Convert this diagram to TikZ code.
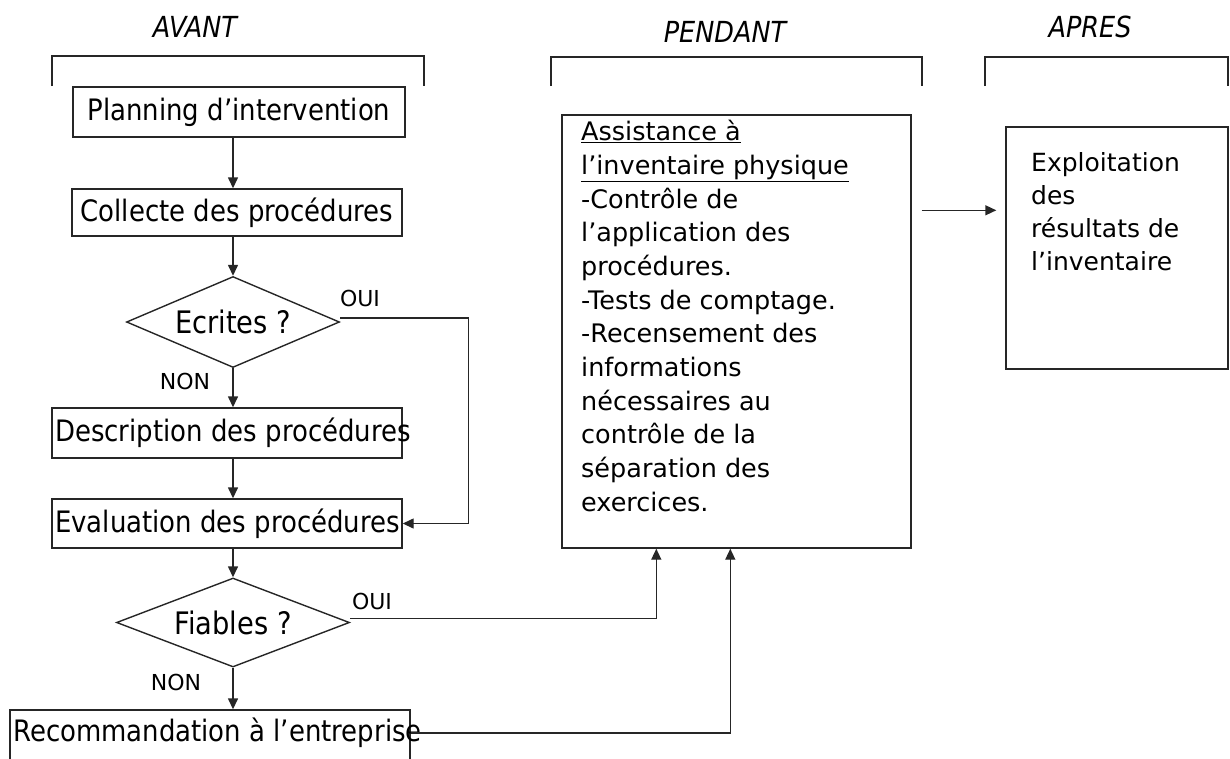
\documentclass[tikz,border=0pt]{standalone}
\usepackage{fontspec}
\setmainfont{DejaVu Sans}
\newfontfamily\condfont[FakeStretch=0.88]{DejaVu Sans}
\usetikzlibrary{shapes.geometric,arrows.meta}
\begin{document}
\begin{tikzpicture}[x=1pt,y=-1pt,
  ln/.style={draw=black!85, line width=1.4pt},
  arr/.style={ln, -{Triangle[length=11pt,width=10pt]}},
  brk/.style={draw=black!85, line width=1.6pt},
  box/.style={draw=black!85, line width=1.4pt, inner sep=0pt},
  dia/.style={diamond, draw=black!85, line width=1.4pt, inner sep=0pt, aspect=2.3},
  btxt/.style={font=\condfont\fontsize{29.5}{32}\selectfont, inner sep=0pt},
  dtxt/.style={font=\condfont\fontsize{31}{34}\selectfont},
  lab/.style={font=\fontsize{22}{24}\selectfont, inner sep=0pt},
  head/.style={font=\condfont\itshape\fontsize{29}{32}\selectfont, inner sep=0pt},
  para/.style={font=\fontsize{25.5}{33.7}\selectfont, align=left, inner sep=0pt}]
\useasboundingbox (0,0) rectangle (1230,758);

% headings and brackets
\node[head] (hav) at (195,27) {AVANT};
\node[head] (hpe) at (725,32) {PENDANT};
\node[head] (hap) at (1090,27) {APRES};
\draw[brk] (52,86) -- (52,56) -- (424,56) -- (424,86);
\draw[brk] (551,86) -- (551,57) -- (922,57) -- (922,86);
\draw[brk] (985,86) -- (985,57) -- (1228,57) -- (1228,86);

% left column
\node[box, btxt, minimum width=332, minimum height=50] (plan) at (239,112) {Planning d’intervention};
\node[box, btxt, minimum width=330, minimum height=47] (coll) at (237,212.5) {Collecte des procédures};
\node[dia, dtxt, minimum width=213, minimum height=91] (ecr) at (233,322) {Ecrites ?};
\node[box, minimum width=350, minimum height=50] (desc) at (227,433) {};
\node[btxt, anchor=west] (desct) at (55,433) {Description des procédures};
\node[box, minimum width=350, minimum height=49] (eval) at (227,523.5) {};
\node[btxt, anchor=west] (evalt) at (55,523.5) {Evaluation des procédures};
\node[dia, dtxt, minimum width=233, minimum height=89] (fia) at (233,622.5) {Fiables ?};
\node[box, minimum width=400, minimum height=64] (rec) at (210,742) {};
\node[btxt, anchor=west] (rect) at (13,733) {Recommandation à l’entreprise};

\node[lab] (oui1) at (360,298) {OUI};
\node[lab] (non1) at (185,381) {NON};
\node[lab] (oui2) at (372,601) {OUI};
\node[lab] (non2) at (176,682) {NON};

% right boxes
\node[box, minimum width=349, minimum height=433] (pend) at (736.5,331.5) {};
\node[para, anchor=north west] (pendt) at (581,120) {\underline{Assistance à}\\\underline{l’inventaire physique}\\-Contrôle de\\l’application des\\procédures.\\-Tests de comptage.\\-Recensement des\\informations\\nécessaires au\\contrôle de la\\séparation des\\exercices.};
\node[box, minimum width=222, minimum height=242] (apres) at (1117,248) {};
\node[para, font=\fontsize{25}{33}\selectfont, anchor=north west] (aprest) at (1031,152) {Exploitation\\des\\résultats de\\l’inventaire};

% connectors
\draw[arr] (ecr.north |- plan.south) -- (ecr.north |- coll.north);
\draw[arr] (ecr.north |- coll.south) -- (ecr.north);
\draw[arr] (ecr.south) -- (ecr.south |- desc.north);
\draw[arr] (ecr.south |- desc.south) -- (ecr.south |- eval.north);
\draw[arr] ([yshift=4pt]ecr.east) -- ++(128,0) |- (eval.east);
\draw[arr] (ecr.south |- eval.south) -- (fia.north);
\draw[arr] (fia.south) -- (fia.south |- rec.north);
\draw[arr] ([yshift=4pt]fia.east) -| ([xshift=95pt]pend.south west);
\draw[arr] ([yshift=9pt]rec.east) -| ([xshift=169pt]pend.south west);
\draw[arr] ([shift={(10pt,-96pt)}]pend.north east) -- ([shift={(-9pt,-84pt)}]apres.north west);
\end{tikzpicture}
\end{document}
